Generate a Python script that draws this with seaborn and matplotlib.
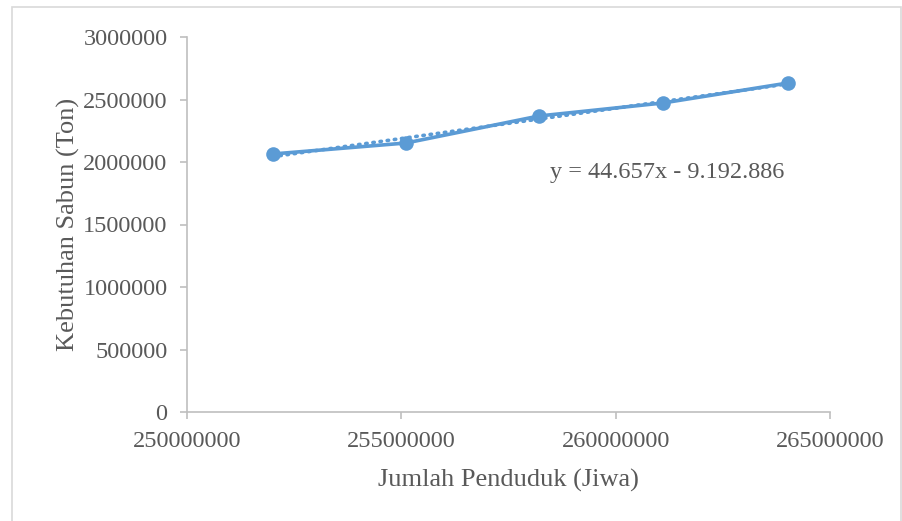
import numpy as np
import pandas as pd
import matplotlib

matplotlib.use("Agg")

import matplotlib.pyplot as plt
from matplotlib.patches import Rectangle
import seaborn as sns

# data
penduduk = [252000000, 255110000, 258210000, 261100000, 264020000]
kebutuhan = [2064000, 2152000, 2368000, 2472000, 2632000]
x_ticks = [250000000, 255000000, 260000000, 265000000]
y_ticks = [0, 500000, 1000000, 1500000, 2000000, 2500000, 3000000]
equation = "y = 44.657x - 9.192.886"

blue = "#5B9BD5"
grey_text = "#595959"
grey_axis = "#BFBFBF"

sns.set_style("white")
plt.rcParams["font.family"] = ["Liberation Serif", "DejaVu Serif"]

df = pd.DataFrame({"penduduk": penduduk, "kebutuhan": kebutuhan})

fig = plt.figure(figsize=(9.02, 5.21), dpi=100)
ax = fig.add_axes([187 / 902, 1 - 412 / 521, (830 - 187) / 902, (412 - 37) / 521])

# linear trendline (dotted)
slope, intercept = np.polyfit(df["penduduk"], df["kebutuhan"], 1)
xs = np.array([df["penduduk"].min(), df["penduduk"].max()])
ax.plot(xs, slope * xs + intercept, color=blue, lw=2.6, ls=(0, (0.4, 1.6)),
        dash_capstyle="round", zorder=2)

sns.lineplot(data=df, x="penduduk", y="kebutuhan", ax=ax, color=blue, lw=2.6,
             marker="o", markersize=10.5, markeredgewidth=0, zorder=3)

ax.set_xlim(250000000, 265000000)
ax.set_ylim(0, 3000000)
ax.set_xticks(x_ticks)
ax.set_yticks(y_ticks)
ax.set_xticklabels([str(v) for v in x_ticks])
ax.set_yticklabels([str(v) for v in y_ticks])

for side in ["top", "right"]:
    ax.spines[side].set_visible(False)
for side in ["left", "bottom"]:
    ax.spines[side].set_color(grey_axis)
    ax.spines[side].set_linewidth(1.2)

ax.tick_params(axis="both", which="major", direction="out", length=5, width=1.2,
               color=grey_axis, labelcolor=grey_text, labelsize=17.5,
               bottom=True, left=True)
ax.tick_params(axis="x", pad=9)
ax.tick_params(axis="y", pad=9)

ax.set_xlabel("Jumlah Penduduk (Jiwa)", fontsize=19, color=grey_text, labelpad=12)
ax.set_ylabel("Kebutuhan Sabun (Ton)", fontsize=19, color=grey_text, labelpad=2)

ax.text(550 / 902, 1 - 172 / 521, equation, transform=fig.transFigure,
        fontsize=17.5, color=grey_text, ha="left", va="center")

# light frame round the chart
fig.patches.append(Rectangle((12 / 902, -0.05), (901 - 12) / 902, 1 - 7 / 521 + 0.05,
                             transform=fig.transFigure, fill=False,
                             edgecolor="#D9D9D9", lw=1.2))

fig.savefig("out.png", dpi=100)
